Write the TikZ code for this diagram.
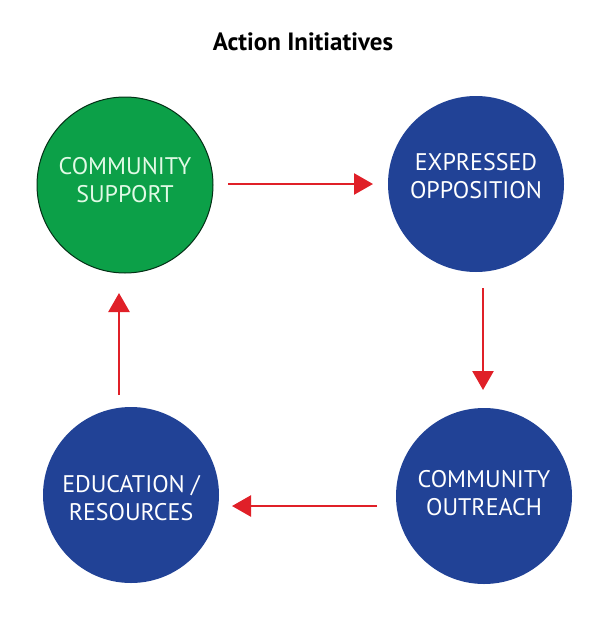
\documentclass[tikz,border=0pt]{standalone}
\usepackage{fontspec}
\setmainfont{PT Sans}
\usetikzlibrary{arrows.meta}
\definecolor{cgreen}{RGB}{12,160,72}
\definecolor{cblue}{RGB}{33,66,150}
\definecolor{cred}{RGB}{224,32,40}
\definecolor{ctxtg}{RGB}{225,250,230}
\tikzset{
  circ/.style={circle, minimum size=176pt, inner sep=0pt},
  bluecirc/.style={circ, fill=cblue},
  greencirc/.style={circ, fill=cgreen, draw=black!70!cgreen, line width=1pt},
  ctext/.style={align=center, inner sep=0pt, font=\fontsize{24}{28}\selectfont, text=white},
  flow/.style={draw=cred, line width=2.5pt, -{Triangle[length=19pt,width=21pt,fill=cred]}},
}
\begin{document}
\begin{tikzpicture}[x=1pt,y=-1pt]
\useasboundingbox (0,0) rectangle (600,634);
\node[font=\bfseries\fontsize{25}{30}\selectfont] (title) at (303,42) {Action Initiatives};
\node[greencirc] (cs) at (125,185) {};
\node[bluecirc] (eo) at (476,184) {};
\node[bluecirc] (co) at (484,496) {};
\node[bluecirc] (er) at (131,495) {};
\node[ctext, text=ctxtg] (cst) at ([yshift=5pt]cs.center) {COMMUNITY\\SUPPORT};
\node[ctext] (eot) at ([yshift=8pt]eo.center) {EXPRESSED\\OPPOSITION};
\node[ctext] (cot) at ([yshift=3pt]co.center) {COMMUNITY\\OUTREACH};
\node[ctext] (ert) at ([yshift=-3pt]er.center) {EDUCATION /\\RESOURCES};
\coordinate (a1s) at (228,184); \coordinate (a1e) at (373,184);
\coordinate (a2s) at (483,288); \coordinate (a2e) at (483,390);
\coordinate (a3s) at (377,506); \coordinate (a3e) at (232,506);
\coordinate (a4s) at (119,395); \coordinate (a4e) at (119,293);
\draw[flow] (a1s) -- (a1e);
\draw[flow] (a2s) -- (a2e);
\draw[flow] (a3s) -- (a3e);
\draw[flow] (a4s) -- (a4e);
\end{tikzpicture}
\end{document}
